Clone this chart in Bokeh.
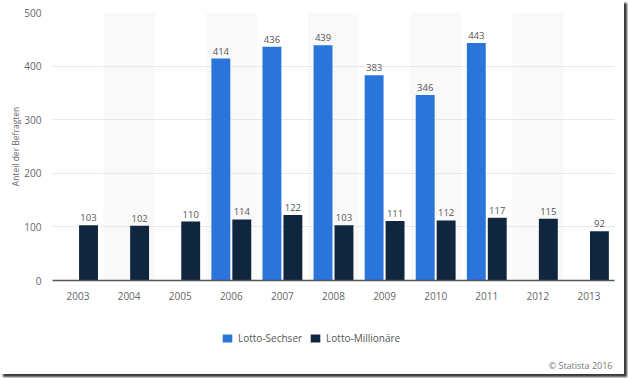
from bokeh.plotting import figure
from bokeh.layouts import column
from bokeh.models import ColumnDataSource, Legend, LegendItem, Label, FactorRange
from bokeh.transform import dodge
from bokeh.core.properties import value
from bokeh.embed import file_html
from bokeh.resources import INLINE

years = ["2003", "2004", "2005", "2006", "2007", "2008", "2009", "2010", "2011", "2012", "2013"]
sechser = [None, None, None, 414, 436, 439, 383, 346, 443, None, None]
millionaere = [103, 102, 110, 114, 122, 103, 111, 112, 117, 115, 92]
series_names = ["Lotto-Sechser", "Lotto-Millionäre"]
y_ticks = [0, 100, 200, 300, 400, 500]
credit_text = "© Statista 2016"

BLUE = "#2a75d9"
NAVY = "#10263f"
FONT = "Open Sans"
W = 624

p = figure(x_range=FactorRange(*years), y_range=(0, 500), width=W, height=302,
           output_backend="svg", toolbar_location=None,
           min_border_left=52, min_border_right=10, min_border_top=12, min_border_bottom=20)
p.outline_line_color = None
p.background_fill_color = "white"
p.border_fill_color = "white"

# alternating background bands
band_years = [y for i, y in enumerate(years) if i % 2 == 1]
p.vbar(x=band_years, top=500, bottom=0, width=1.0, fill_color="#f9f9f9", line_color=None, level="underlay")

s_years = [y for y, v in zip(years, sechser) if v is not None]
s_vals = [v for v in sechser if v is not None]
src_s = ColumnDataSource(dict(x=s_years, top=s_vals, lbl=[str(v) for v in s_vals]))
src_m = ColumnDataSource(dict(x=years, top=millionaere, lbl=[str(v) for v in millionaere]))

p.vbar(x=dodge("x", -0.205, range=p.x_range), top="top", width=0.37, source=src_s,
       fill_color=BLUE, line_color=None)
p.vbar(x=dodge("x", 0.205, range=p.x_range), top="top", width=0.37, source=src_m,
       fill_color=NAVY, line_color=None)

for src, off in ((src_s, -0.205), (src_m, 0.205)):
    p.text(x=dodge("x", off, range=p.x_range), y="top", text="lbl", source=src,
           text_align="center", text_baseline="bottom", y_offset=-4,
           text_font=value(FONT), text_font_size="9.5px", text_color="#555555")

p.xgrid.grid_line_color = None
p.ygrid.grid_line_color = "#e8e8e8"
p.yaxis.ticker = y_ticks
p.yaxis.axis_line_color = None
p.yaxis.major_tick_line_color = None
p.yaxis.minor_tick_line_color = None
p.yaxis.major_label_text_font = FONT
p.yaxis.major_label_text_font_size = "10px"
p.yaxis.major_label_text_color = "#666666"
p.yaxis.major_label_standoff = 5
p.yaxis.axis_label = "Anteil der Befragten"
p.yaxis.axis_label_text_font = FONT
p.yaxis.axis_label_text_font_size = "8.5px"
p.yaxis.axis_label_text_font_style = "normal"
p.yaxis.axis_label_text_color = "#666666"
p.yaxis.axis_label_standoff = 0

p.xaxis.axis_line_color = "#555555"
p.xaxis.axis_line_width = 1.5
p.xaxis.major_tick_line_color = None
p.xaxis.minor_tick_line_color = None
p.xaxis.major_label_text_font = FONT
p.xaxis.major_label_text_font_size = "10px"
p.xaxis.major_label_text_color = "#666666"
p.xaxis.major_label_standoff = 5

# footer figure: legend + credit (its frame is aligned with the main frame by the column)
f = figure(x_range=(0, W), y_range=(0, 72), width=W, height=72, output_backend="svg",
           toolbar_location=None, min_border=0, x_axis_location=None, y_axis_location=None)
f.grid.visible = False
f.outline_line_color = None
f.background_fill_color = "white"
f.border_fill_color = "white"
# zero-height swatch renderers (draw nothing themselves; they only feed the legend)
swatch = dict(x=[0], top=[0])
l_s = f.vbar(x="x", top="top", bottom=0, width=1, source=ColumnDataSource(swatch), fill_color=BLUE, line_color=None)
l_m = f.vbar(x="x", top="top", bottom=0, width=1, source=ColumnDataSource(swatch), fill_color=NAVY, line_color=None)

legend = Legend(items=[LegendItem(label=series_names[0], renderers=[l_s]),
                       LegendItem(label=series_names[1], renderers=[l_m])],
                orientation="horizontal", location=(169, 29),
                glyph_width=12, glyph_height=10, label_text_font=FONT,
                label_text_font_size="10px", label_text_color="#555555",
                border_line_color=None, background_fill_alpha=0, padding=4, margin=0,
                spacing=7, label_standoff=5)
f.add_layout(legend, "center")

credit = Label(x=560, y=9, x_units="screen", y_units="screen", text=credit_text,
               text_align="right", text_baseline="middle", text_font=FONT,
               text_font_size="9px", text_color="#777777")
f.add_layout(credit)

layout = column(p, f, spacing=0)
layout.styles = {"box-shadow": "3px 3px 2px #3a3a3a"}

open("out.html", "w").write(file_html(layout, INLINE))
